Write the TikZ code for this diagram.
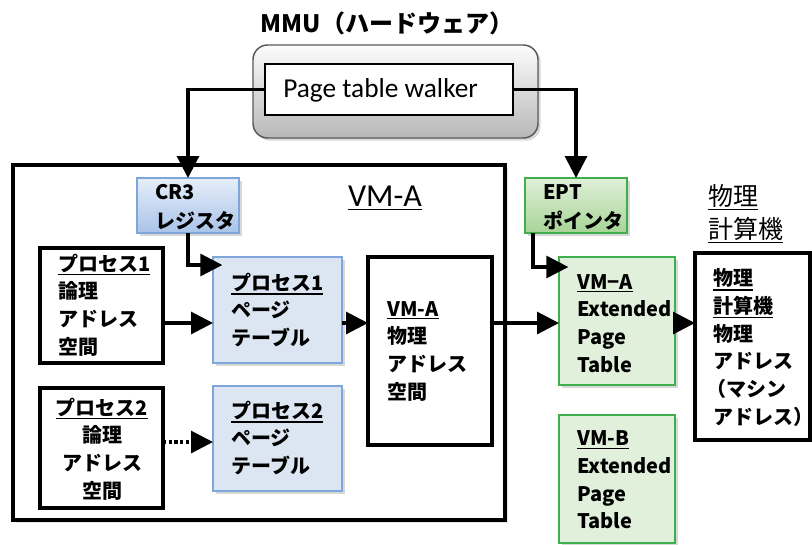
\documentclass[tikz,border=0pt]{standalone}
\usepackage{fontspec}
\setmainfont{Noto Sans CJK JP}
\newfontfamily\calfont{Carlito}
\usetikzlibrary{shadows,arrows.meta,calc}
\definecolor{bluefill}{HTML}{DCE6F2}
\definecolor{blueline}{HTML}{7FA6DA}
\definecolor{cr3top}{HTML}{E6EEF9}
\definecolor{cr3bot}{HTML}{A9C3E8}
\definecolor{greenfill}{HTML}{E1F0DA}
\definecolor{greenline}{HTML}{3FAF4E}
\definecolor{epttop}{HTML}{DFF0D8}
\definecolor{eptbot}{HTML}{A8D497}
\definecolor{mmutop}{HTML}{FCFCFC}
\definecolor{mmubot}{HTML}{B8B8B8}
\newcommand\ulx[1]{\vtop{\hbox{#1}\kern1.3pt\hrule height 0.9pt}}
\tikzset{
  wh/.style 2 args={minimum width=#1*0.75pt, minimum height=#2*0.75pt},
  box/.style={anchor=north west, inner sep=0pt, outer sep=0pt},
  thickbox/.style={box, draw=black, line width=2.6pt, fill=white},
  bluebox/.style={box, draw=blueline, line width=1.1pt, fill=bluefill,
    drop shadow={shadow xshift=2pt, shadow yshift=-2pt, opacity=0.3}},
  cr3box/.style={box, draw=blueline, line width=1.1pt, top color=cr3top, bottom color=cr3bot,
    drop shadow={shadow xshift=2pt, shadow yshift=-2pt, opacity=0.3}},
  greenbox/.style={box, draw=greenline, line width=1.1pt, fill=greenfill,
    drop shadow={shadow xshift=2pt, shadow yshift=-2pt, opacity=0.3}},
  eptbox/.style={box, draw=greenline, line width=1.1pt, top color=epttop, bottom color=eptbot,
    drop shadow={shadow xshift=2pt, shadow yshift=-2pt, opacity=0.3}},
  txt/.style={font=\bfseries\fontsize{15}{20.75}\selectfont, align=left, inner sep=0pt, anchor=west},
  arr/.style={line width=2.3pt, -{Triangle[length=16.5pt, width=16.5pt]}},
}
\begin{document}
\begin{tikzpicture}[x=0.75pt, y=-0.75pt]
\useasboundingbox (0,0) rectangle (812,544);
\fill[white] (0,0) rectangle (812,544);

% title and MMU
\node[font=\bfseries\fontsize{18}{20}\selectfont] (title) at (387,23) {MMU（ハードウェア）};
\node[box, wh={285}{93}, draw=black!65, line width=1.1pt, rounded corners=11pt,
  top color=mmutop, bottom color=mmubot,
  drop shadow={shadow xshift=2pt, shadow yshift=-2pt, opacity=0.3}] (mmu) at (253,45) {};
\node[box, wh={248}{51}, draw=black, line width=1.1pt, fill=white] (walker) at (265,64) {};
\node[font=\calfont\fontsize{20.5}{20}\selectfont, anchor=west, inner sep=0pt] (wtext) at (283,90) {Page table walker};

% VM-A outer
\node[thickbox, wh={492}{355}, drop shadow={shadow xshift=2pt, shadow yshift=-2pt, opacity=0.2}] (vma) at (13,165) {};
\node[font=\calfont\fontsize{24}{24}\selectfont] (lblvma) at (385,198) {\ulx{VM-A}};

% CR3
\node[cr3box, wh={102}{55}] (cr3) at (137,178) {};
\node[txt, font=\bfseries\fontsize{15}{21.75}\selectfont] (cr3t) at (155,207.5) {CR3\\レジスタ};

% process 1
\node[thickbox, wh={123}{115}] (p1) at (40,248) {};
\node[txt] (p1t) at (58,305) {\ulx{プロセス1}\\論理\\アドレス\\空間};
\node[bluebox, wh={129}{106}] (pt1) at (213,257) {};
\node[txt] (pt1t) at (231,310) {\ulx{プロセス1}\\ページ\\テーブル};

% process 2
\node[thickbox, wh={123}{120}] (p2) at (40,388) {};
\node[txt, align=center, anchor=center] (p2t) at (102,449) {\ulx{プロセス2}\\論理\\アドレス\\空間};
\node[bluebox, wh={129}{105}] (pt2) at (213,386) {};
\node[txt] (pt2t) at (231,438) {\ulx{プロセス2}\\ページ\\テーブル};

% VM-A physical
\node[thickbox, wh={124}{188}] (vmap) at (368,257) {};
\node[txt] (vmapt) at (387,351) {\ulx{VM-A}\\物理\\アドレス\\空間};

% EPT pointer
\node[eptbox, wh={102}{55}] (ept) at (525,178) {};
\node[txt, font=\bfseries\fontsize{15}{21.75}\selectfont] (eptt) at (543,207.5) {EPT\\ポインタ};

% EPT tables
\node[greenbox, wh={116}{128}] (epta) at (559,257) {};
\node[txt] (eptat) at (577,323.5) {\ulx{VM−A}\\Extended\\Page\\Table};
\node[greenbox, wh={116}{128}] (eptb) at (559,415) {};
\node[txt] (eptbt) at (577,480) {\ulx{VM-B}\\Extended\\Page\\Table};

% physical machine
\node[font=\fontsize{18.75}{24.75}\selectfont, align=left, anchor=west, inner sep=0pt] (lblphys) at (708,213.5) {\ulx{物理}\\\ulx{計算機}};
\node[thickbox, wh={115}{187}] (phys) at (695,253) {};
\node[txt] (physt) at (713,347.5) {\ulx{物理}\\\ulx{計算機}\\物理\\アドレス\\\hspace{-0.35em}（マシン\\アドレス）};

% connectors
\coordinate (ya) at (0,323);
\coordinate (yb) at (0,442);
\coordinate (yc) at (0,265);
\coordinate (yd) at (0,267);
\coordinate (eptout) at (533,233);
\draw[arr] (walker.west) -| (cr3.north);
\draw[arr] (walker.east) -| (ept.north);
\draw[arr, shorten >=-7pt] (cr3.south) |- (pt1.west |- yc);
\draw[arr, shorten >=-7pt] (eptout) |- (epta.west |- yd);
\draw[arr] (p1.east |- ya) -- (pt1.west |- ya);
\draw[arr, dotted] (p2.east |- yb) -- (pt2.west |- yb);
\draw[arr] (pt1.east |- ya) -- (vmap.west |- ya);
\draw[arr] (vmap.east |- ya) -- (epta.west |- ya);
\draw[arr] (epta.east |- ya) -- (phys.west |- ya);
\end{tikzpicture}
\end{document}
